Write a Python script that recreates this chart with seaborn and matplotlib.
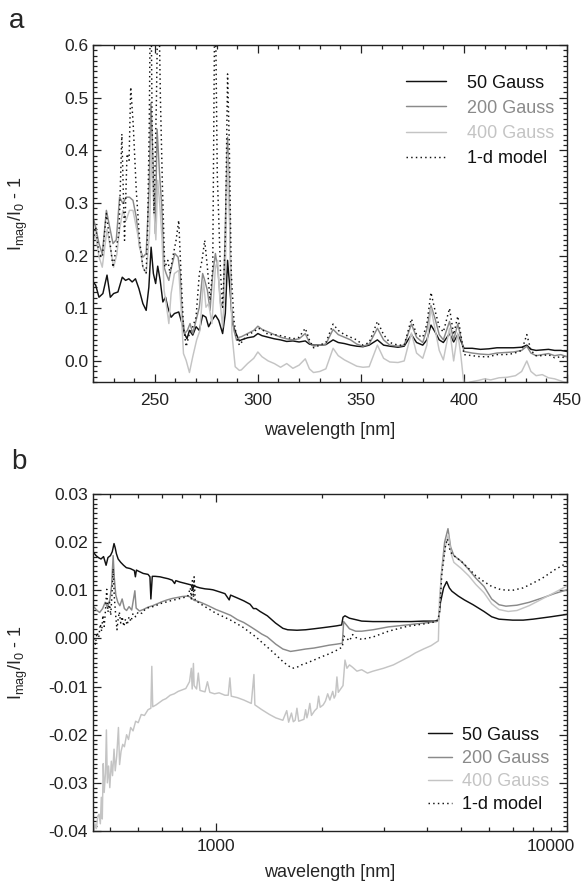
import matplotlib
matplotlib.use('Agg')
import matplotlib.pyplot as plt
import matplotlib.transforms as mtransforms
from matplotlib.ticker import MultipleLocator, FixedLocator, LogLocator, NullFormatter, FuncFormatter
import seaborn as sns

# panel a: (wavelength [nm], I_mag/I_0 - 1)
a_50g = [
    (220, 0.150), (221.3, 0.144), (222.9, 0.121), (224.8, 0.128), (226.8, 0.163), (228.4, 0.121),
    (230.0, 0.128), (232.1, 0.131), (234.2, 0.159), (235.8, 0.153), (237.4, 0.156), (239.0, 0.150),
    (240.6, 0.156), (242.3, 0.137), (244.2, 0.109), (245.8, 0.096), (247.1, 0.140), (248.2, 0.216),
    (249.3, 0.166), (250.4, 0.147), (251.4, 0.180), (252.6, 0.153), (253.9, 0.112), (255.2, 0.121),
    (256.3, 0.102), (257.9, 0.083), (259.5, 0.090), (261.6, 0.093), (263.2, 0.071), (264.4, 0.052),
    (265.6, 0.042), (266.8, 0.058), (268.4, 0.049), (270.0, 0.065), (271.6, 0.058), (273.2, 0.087),
    (274.8, 0.083), (276.1, 0.065), (277.7, 0.077), (279.4, 0.087), (281.0, 0.077), (282.9, 0.052),
    (284.2, 0.090), (285.3, 0.191), (286.5, 0.134), (287.7, 0.071), (289.4, 0.052), (291.0, 0.038),
    (292, 0.040), (295, 0.044), (298, 0.046), (300, 0.052), (302, 0.048), (305, 0.045), (308, 0.042),
    (311, 0.040), (314, 0.037), (317, 0.038), (320, 0.036), (323, 0.038), (325, 0.032), (327, 0.030),
    (330, 0.030), (333, 0.031), (336.5, 0.040), (339, 0.035), (342, 0.033), (345, 0.030), (348, 0.028),
    (351, 0.027), (354, 0.030), (358, 0.040), (361, 0.030), (364, 0.028), (368, 0.026), (371, 0.028),
    (374.5, 0.050), (377, 0.035), (380, 0.030), (382, 0.040), (384, 0.068), (386, 0.055), (388, 0.040),
    (390, 0.035), (393, 0.052), (395, 0.036), (397, 0.050), (398.5, 0.038), (400, 0.024), (404, 0.024),
    (408, 0.022), (412, 0.023), (416, 0.025), (420, 0.025), (424, 0.025), (428, 0.026), (430.5, 0.030),
    (432.5, 0.022), (435, 0.020), (438, 0.021), (441, 0.022), (444, 0.020), (447, 0.020), (450, 0.018),
]
a_200g = [
    (220, 0.273), (221.3, 0.254), (222.9, 0.223), (224.5, 0.203), (226.5, 0.286), (228.1, 0.254),
    (229.7, 0.223), (231.3, 0.230), (232.9, 0.311), (234.5, 0.299), (236.1, 0.311), (237.7, 0.311),
    (239.4, 0.305), (241.0, 0.273), (242.6, 0.216), (244.2, 0.197), (245.8, 0.204), (247.2, 0.324),
    (248.1, 0.490), (249.3, 0.355), (250.2, 0.242), (251.1, 0.440), (252.3, 0.355), (253.4, 0.292),
    (254.5, 0.178), (255.5, 0.166), (256.8, 0.153), (258.1, 0.178), (259.7, 0.204), (261.3, 0.197),
    (262.3, 0.166), (263.2, 0.090), (264.5, 0.052), (265.8, 0.058), (267.1, 0.071), (268.4, 0.052),
    (270.0, 0.077), (271.6, 0.102), (273.2, 0.166), (274.2, 0.153), (275.5, 0.134), (276.8, 0.096),
    (278.1, 0.166), (279.4, 0.204), (280.6, 0.172), (281.9, 0.109), (283.2, 0.102), (284.2, 0.254),
    (285.3, 0.425), (286.1, 0.324), (287.1, 0.102), (288.4, 0.058), (289.7, 0.039), (291.0, 0.045),
    (292, 0.046), (295, 0.052), (298, 0.058), (300, 0.066), (302, 0.060), (305, 0.055), (308, 0.050),
    (311, 0.045), (314, 0.042), (317, 0.040), (320, 0.042), (323, 0.052), (325, 0.035), (327, 0.028),
    (330, 0.030), (333, 0.032), (336.5, 0.060), (339, 0.050), (342, 0.045), (345, 0.040), (348, 0.032),
    (351, 0.028), (354, 0.032), (358, 0.062), (361, 0.040), (364, 0.030), (368, 0.028), (371, 0.030),
    (374.5, 0.070), (377, 0.045), (380, 0.035), (382, 0.060), (384, 0.105), (386, 0.080), (388, 0.050),
    (390, 0.040), (393, 0.075), (395, 0.040), (397, 0.070), (398.5, 0.045), (400, 0.018), (404, 0.015),
    (408, 0.013), (412, 0.012), (416, 0.015), (420, 0.016), (424, 0.017), (428, 0.020), (430.5, 0.028),
    (432.5, 0.015), (435, 0.010), (438, 0.012), (441, 0.014), (444, 0.010), (447, 0.012), (450, 0.008),
]
a_400g = [
    (220, 0.230), (221.3, 0.240), (222.9, 0.198), (224.5, 0.178), (226.8, 0.250), (228.4, 0.216),
    (230.0, 0.178), (231.6, 0.203), (232.9, 0.250), (234.5, 0.286), (236.1, 0.267), (237.7, 0.286),
    (239.4, 0.286), (241.0, 0.254), (242.6, 0.223), (244.2, 0.178), (245.8, 0.166), (247.4, 0.242),
    (248.4, 0.400), (249.5, 0.292), (250.5, 0.230), (251.4, 0.343), (252.5, 0.292), (253.5, 0.230),
    (254.5, 0.134), (255.5, 0.109), (256.8, 0.071), (257.9, 0.128), (259.5, 0.166), (261.6, 0.172),
    (262.7, 0.102), (263.9, 0.014), (265.2, 0.001), (266.8, -0.022), (268.4, 0.008), (270.3, 0.040),
    (271.9, 0.058), (273.6, 0.153), (274.8, 0.102), (276.1, 0.109), (277.7, 0.071), (279.4, 0.178),
    (280.5, 0.191), (281.6, 0.115), (282.9, 0.064), (284.2, 0.166), (285.3, 0.394), (286.5, 0.230),
    (287.4, 0.052), (289.0, -0.011), (291.0, -0.018),
    (292, -0.017), (295, -0.005), (298, 0.005), (300, 0.017), (302, 0.008), (305, 0.000), (308, -0.005),
    (311, -0.012), (314, -0.005), (317, -0.014), (320, -0.008), (323, 0.004), (325, -0.015), (327, -0.022),
    (330, -0.020), (333, -0.015), (336.5, 0.024), (339, 0.010), (342, 0.002), (345, -0.004), (348, -0.010),
    (351, -0.012), (354, -0.011), (358, 0.030), (361, 0.005), (364, -0.002), (368, -0.003), (371, 0.000),
    (374.5, 0.053), (377, 0.015), (380, 0.005), (382, 0.030), (384, 0.100), (386, 0.060), (388, 0.020),
    (390, 0.002), (393, 0.062), (395, 0.000), (397, 0.053), (398.5, 0.010), (400, -0.045), (403, -0.040),
    (407, -0.037), (410, -0.034), (413, -0.036), (417, -0.032), (421, -0.031), (425, -0.028), (428, -0.020),
    (430.5, 0.000), (432.5, -0.020), (435, -0.028), (438, -0.026), (441, -0.032), (444, -0.034),
    (447, -0.038), (450, -0.042),
]
a_model = [
    (220, 0.229), (221.3, 0.254), (222.9, 0.203), (224.5, 0.197), (226.5, 0.280), (228.1, 0.229),
    (229.7, 0.178), (231.3, 0.216), (232.6, 0.242), (234.0, 0.431), (235.3, 0.229), (236.5, 0.393),
    (237.5, 0.381), (238.3, 0.520), (239.5, 0.450), (241.0, 0.324), (242.6, 0.229), (244.2, 0.178),
    (245.8, 0.166), (246.5, 0.250), (247.3, 0.450), (248.0, 0.750), (248.7, 0.450), (249.6, 0.280),
    (250.8, 0.500), (251.7, 0.750), (252.7, 0.500), (253.7, 0.330), (254.8, 0.178), (256.3, 0.191),
    (257.4, 0.166), (258.7, 0.197), (260.3, 0.229), (261.6, 0.267), (262.7, 0.166), (263.9, 0.065),
    (265.2, 0.027), (266.8, 0.052), (268.4, 0.065), (270.0, 0.083), (271.6, 0.166), (272.9, 0.191),
    (274.2, 0.229), (275.5, 0.178), (276.8, 0.115), (278.1, 0.178), (279.2, 0.750), (280.3, 0.355),
    (281.9, 0.166), (282.9, 0.102), (284.2, 0.229), (285.3, 0.545), (286.1, 0.419), (287.1, 0.166),
    (288.4, 0.077), (289.7, 0.045), (291.0, 0.030),
    (292, 0.035), (295, 0.050), (298, 0.055), (300, 0.062), (302, 0.060), (305, 0.050), (308, 0.050),
    (311, 0.048), (314, 0.045), (317, 0.042), (320, 0.045), (323, 0.062), (325, 0.040), (327, 0.025),
    (330, 0.030), (333, 0.035), (336.5, 0.070), (339, 0.058), (342, 0.050), (345, 0.045), (348, 0.040),
    (351, 0.030), (354, 0.035), (358, 0.075), (361, 0.050), (364, 0.035), (368, 0.030), (371, 0.030),
    (374.5, 0.080), (377, 0.050), (380, 0.045), (382, 0.070), (384, 0.130), (386, 0.095), (388, 0.065),
    (390, 0.055), (393, 0.100), (395, 0.050), (397, 0.085), (398.5, 0.050), (400, 0.012), (404, 0.010),
    (408, 0.008), (412, 0.008), (416, 0.012), (420, 0.012), (424, 0.014), (428, 0.020), (430.5, 0.050),
    (432.5, 0.020), (435, 0.010), (438, 0.010), (441, 0.012), (444, 0.006), (447, 0.008), (450, 0.005),
]

# panel b
b_50g = [
    (448, 0.0178), (455, 0.0172), (462, 0.0168), (470, 0.0165), (478, 0.0170), (486, 0.0152),
    (492, 0.0168), (500, 0.0172), (506, 0.0180), (512, 0.0197), (516, 0.0188), (520, 0.0176),
    (526, 0.0165), (535, 0.0158), (545, 0.0152), (555, 0.0147), (570, 0.0145), (585, 0.0141),
    (589, 0.0128), (593, 0.0142), (600, 0.0140), (620, 0.0135), (640, 0.0133), (648, 0.0128),
    (652, 0.0082), (658, 0.0129), (670, 0.0129), (692, 0.0128), (710, 0.0126), (730, 0.0124),
    (750, 0.0121), (762, 0.0114), (768, 0.0120), (790, 0.0117), (810, 0.0115), (830, 0.0113),
    (850, 0.0111), (858, 0.0101), (864, 0.0110), (880, 0.0107), (900, 0.0105), (930, 0.0103),
    (960, 0.0102), (980, 0.0101), (1000, 0.0099), (1030, 0.0096), (1060, 0.0093), (1090, 0.0080),
    (1100, 0.0090), (1150, 0.0084), (1200, 0.0078), (1250, 0.0071), (1278, 0.0062), (1300, 0.0062),
    (1335, 0.0056), (1400, 0.0047), (1477, 0.0032), (1550, 0.0021), (1600, 0.0018), (1700, 0.0017),
    (1800, 0.0018), (1900, 0.0020), (2000, 0.0022), (2100, 0.0024), (2200, 0.0026), (2280, 0.0028),
    (2300, 0.0044), (2330, 0.0047), (2400, 0.0042), (2500, 0.0039), (2600, 0.0036), (2800, 0.0035),
    (3000, 0.0035), (3300, 0.0035), (3600, 0.0035), (3900, 0.0036), (4200, 0.0036), (4300, 0.0038),
    (4360, 0.0075), (4450, 0.0105), (4540, 0.0118), (4620, 0.0105), (4700, 0.0098), (4900, 0.0088),
    (5100, 0.0080), (5400, 0.0070), (5800, 0.0056), (6100, 0.0045), (6400, 0.0040), (7000, 0.0038),
    (7500, 0.0038), (8000, 0.0040), (9000, 0.0045), (10000, 0.0050),
]
b_200g = [
    (448, 0.0066), (458, 0.0058), (466, 0.0054), (475, 0.0062), (483, 0.0075), (490, 0.0065),
    (498, 0.0080), (504, 0.0110), (509, 0.0172), (513, 0.0125), (518, 0.0090), (525, 0.0075),
    (532, 0.0068), (540, 0.0082), (548, 0.0062), (556, 0.0058), (565, 0.0066), (575, 0.0059),
    (587, 0.0099), (592, 0.0063), (605, 0.0057), (620, 0.0060), (640, 0.0065), (660, 0.0068),
    (680, 0.0072), (700, 0.0076), (725, 0.0080), (750, 0.0083), (775, 0.0085), (800, 0.0087),
    (830, 0.0088), (850, 0.0085), (866, 0.0079), (880, 0.0078), (910, 0.0074), (950, 0.0068),
    (1000, 0.0060), (1050, 0.0054), (1100, 0.0048), (1150, 0.0039), (1200, 0.0033), (1250, 0.0025),
    (1300, 0.0017), (1350, 0.0009), (1400, 0.0003), (1480, -0.0012), (1550, -0.0022), (1630, -0.0027),
    (1700, -0.0025), (1800, -0.0022), (1900, -0.0020), (2000, -0.0017), (2100, -0.0014), (2200, -0.0012),
    (2290, -0.0010), (2310, 0.0035), (2340, 0.0030), (2400, 0.0020), (2500, 0.0015), (2600, 0.0015),
    (2800, 0.0018), (3100, 0.0024), (3500, 0.0028), (3900, 0.0032), (4250, 0.0035), (4320, 0.0040),
    (4380, 0.0130), (4480, 0.0200), (4580, 0.0228), (4660, 0.0190), (4760, 0.0172), (5000, 0.0160),
    (5250, 0.0143), (5500, 0.0125), (5800, 0.0108), (6100, 0.0082), (6400, 0.0070), (6700, 0.0067),
    (7200, 0.0069), (7800, 0.0075), (8500, 0.0084), (9200, 0.0093), (10000, 0.0101),
]
b_400g = [
    (448, -0.0410), (452, -0.0385), (456, -0.0395), (460, -0.0370), (464, -0.0365), (468, -0.0385),
    (471, -0.0330), (474, -0.0375), (477, -0.0260), (480, -0.0320), (484, -0.0280), (487, -0.0190),
    (490, -0.0300), (494, -0.0265), (498, -0.0310), (503, -0.0255), (507, -0.0285), (512, -0.0230),
    (516, -0.0275), (521, -0.0245), (527, -0.0185), (531, -0.0262), (536, -0.0235), (542, -0.0220),
    (548, -0.0225), (556, -0.0200), (563, -0.0210), (571, -0.0185), (580, -0.0192), (590, -0.0172),
    (600, -0.0175), (612, -0.0158), (625, -0.0160), (640, -0.0148), (652, -0.0145), (656, -0.0058),
    (660, -0.0142), (675, -0.0138), (690, -0.0133), (705, -0.0128), (720, -0.0125), (740, -0.0118),
    (760, -0.0115), (780, -0.0110), (800, -0.0107), (820, -0.0104), (840, -0.0090), (850, -0.0062),
    (855, -0.0105), (862, -0.0052), (866, -0.0098), (880, -0.0105), (890, -0.0072), (900, -0.0108),
    (930, -0.0111), (945, -0.0090), (960, -0.0112), (990, -0.0115), (1020, -0.0113), (1060, -0.0118),
    (1083, -0.0118), (1095, -0.0082), (1105, -0.0120), (1150, -0.0123), (1200, -0.0128), (1260, -0.0135),
    (1282, -0.0075), (1290, -0.0138), (1350, -0.0148), (1420, -0.0158), (1480, -0.0165), (1550, -0.0170),
    (1590, -0.0150), (1610, -0.0174), (1640, -0.0155), (1660, -0.0173), (1680, -0.0170), (1700, -0.0145),
    (1720, -0.0172), (1780, -0.0168), (1800, -0.0148), (1815, -0.0165), (1830, -0.0155), (1850, -0.0135),
    (1870, -0.0160), (1910, -0.0150), (1940, -0.0145), (1960, -0.0120), (1980, -0.0143), (2020, -0.0138),
    (2050, -0.0130), (2080, -0.0115), (2110, -0.0128), (2150, -0.0110), (2170, -0.0124), (2190, -0.0118),
    (2210, -0.0080), (2230, -0.0112), (2300, -0.0098), (2330, -0.0045), (2360, -0.0062), (2400, -0.0055),
    (2450, -0.0060), (2520, -0.0068), (2600, -0.0065), (2700, -0.0072), (2800, -0.0068), (3000, -0.0062),
    (3200, -0.0055), (3400, -0.0045), (3550, -0.0038), (3700, -0.0030), (3900, -0.0022), (4100, -0.0015),
    (4300, -0.0005), (4330, 0.0080), (4400, 0.0140), (4500, 0.0190), (4590, 0.0215), (4680, 0.0175),
    (4760, 0.0158), (5000, 0.0145), (5250, 0.0130), (5500, 0.0112), (5800, 0.0095), (6100, 0.0072),
    (6400, 0.0060), (6800, 0.0056), (7200, 0.0058), (7800, 0.0068), (8500, 0.0082), (9200, 0.0095),
    (10000, 0.0109),
]
b_model = [
    (448, 0.0000), (453, -0.0012), (458, 0.0012), (463, 0.0002), (468, 0.0030), (472, 0.0015),
    (476, 0.0048), (480, 0.0025), (484, 0.0058), (488, 0.0102), (492, 0.0055), (497, 0.0075),
    (501, 0.0048), (505, 0.0090), (509, 0.0145), (513, 0.0085), (518, 0.0045), (522, 0.0018),
    (526, 0.0040), (530, 0.0055), (535, 0.0032), (540, 0.0045), (546, 0.0025), (552, 0.0040),
    (558, 0.0028), (565, 0.0045), (572, 0.0035), (580, 0.0052), (590, 0.0045), (600, 0.0055),
    (615, 0.0052), (630, 0.0062), (650, 0.0065), (670, 0.0067), (690, 0.0072), (710, 0.0074),
    (730, 0.0077), (750, 0.0079), (770, 0.0081), (790, 0.0083), (810, 0.0085), (830, 0.0087),
    (845, 0.0105), (850, 0.0082), (856, 0.0120), (862, 0.0085), (866, 0.0128), (872, 0.0078),
    (890, 0.0075), (920, 0.0068), (960, 0.0060), (1000, 0.0052), (1050, 0.0045), (1100, 0.0038),
    (1150, 0.0030), (1200, 0.0022), (1250, 0.0012), (1300, 0.0003), (1350, -0.0008), (1400, -0.0018),
    (1450, -0.0028), (1500, -0.0038), (1550, -0.0048), (1600, -0.0056), (1650, -0.0062), (1700, -0.0060),
    (1750, -0.0055), (1800, -0.0052), (1900, -0.0045), (2000, -0.0038), (2100, -0.0032), (2200, -0.0025),
    (2290, -0.0018), (2310, 0.0005), (2340, 0.0002), (2400, -0.0005), (2450, 0.0008), (2500, 0.0002),
    (2600, -0.0002), (2800, 0.0003), (3100, 0.0015), (3500, 0.0025), (3900, 0.0030), (4250, 0.0035),
    (4330, 0.0050), (4400, 0.0135), (4500, 0.0190), (4560, 0.0207), (4650, 0.0180), (4760, 0.0172),
    (5000, 0.0160), (5250, 0.0145), (5500, 0.0130), (5800, 0.0118), (6100, 0.0108), (6500, 0.0101),
    (7000, 0.0100), (7500, 0.0105), (8000, 0.0115), (8500, 0.0125), (9200, 0.0142), (10000, 0.0157),
]

labels = ['50 Gauss', '200 Gauss', '400 Gauss', '1-d model']
colors = ['#111111', '#8a8a8a', '#c4c4c4', '#111111']
styles = ['-', '-', '-', (0, (1, 2.2))]


def draw_panel(ax, series):
    for data, label, color, ls in zip(series, labels, colors, styles):
        wl, val = zip(*data)
        sns.lineplot(x=list(wl), y=list(val), ax=ax, color=color, lw=1.05, linestyle=ls,
                     estimator=None, sort=False, legend=False)


def style_axis(ax):
    for sp in ax.spines.values():
        sp.set_linewidth(1.0)
        sp.set_color('#222222')
    ax.tick_params(which='both', direction='in', top=True, right=True, width=0.9,
                   colors='#222222', labelsize=12.5)
    ax.tick_params(which='major', length=6)
    ax.tick_params(which='minor', length=3)
    ax.tick_params(axis='y', pad=3.5)


sns.set_theme(style='ticks')
plt.rcParams['font.family'] = ['Liberation Sans', 'DejaVu Sans']
plt.rcParams['mathtext.default'] = 'regular'

fig = plt.figure(figsize=(5.84, 8.82), dpi=100)
ax_a = fig.add_axes([93 / 584, 1 - 382 / 882, 474 / 584, 337 / 882])
ax_b = fig.add_axes([93 / 584, 1 - 831 / 882, 474 / 584, 337 / 882])

ylabel = r'$I_{mag}/I_0$ - 1'

# panel a
draw_panel(ax_a, [a_50g, a_200g, a_400g, a_model])
ax_a.set_xlim(220, 450)
ax_a.set_ylim(-0.04, 0.6)
ax_a.xaxis.set_major_locator(MultipleLocator(50))
ax_a.xaxis.set_minor_locator(MultipleLocator(10))
ax_a.yaxis.set_major_locator(MultipleLocator(0.1))
ax_a.yaxis.set_minor_locator(MultipleLocator(0.01))
ax_a.yaxis.set_major_formatter(FuncFormatter(lambda v, p: f'{round(v, 2) + 0:.1f}'))
style_axis(ax_a)
ax_a.tick_params(axis='x', pad=8)
ax_a.set_xlabel('wavelength [nm]', fontsize=13)
ax_a.set_ylabel(ylabel, fontsize=13)
ax_a.xaxis.set_label_coords(0.5, -0.12)
ax_a.yaxis.set_label_coords(-0.132, 0.5)
ax_a.legend(ax_a.lines[:4], labels, loc='upper left', bbox_to_anchor=(0.66, 0.912),
            frameon=False, borderpad=0, borderaxespad=0, handlelength=2.2,
            handletextpad=1.2, labelspacing=0.45, labelcolor='linecolor', fontsize=13)

# panel b
draw_panel(ax_b, [b_50g, b_200g, b_400g, b_model])
ax_b.set_xscale('log')
ax_b.set_xlim(446, 10000)
ax_b.set_ylim(-0.04, 0.03)
ax_b.xaxis.set_major_locator(FixedLocator([1000, 10000]))
ax_b.xaxis.set_major_formatter(FuncFormatter(lambda v, p: f'{v:.0f}'))
ax_b.xaxis.set_minor_locator(LogLocator(base=10, subs=(2, 3, 4, 5, 6, 7, 8, 9)))
ax_b.xaxis.set_minor_formatter(NullFormatter())
ax_b.yaxis.set_major_locator(MultipleLocator(0.01))
ax_b.yaxis.set_minor_locator(MultipleLocator(0.001))
ax_b.yaxis.set_major_formatter(FuncFormatter(lambda v, p: f'{round(v, 3) + 0:.2f}'))
style_axis(ax_b)
ax_b.tick_params(axis='x', pad=6)
ax_b.set_xlabel('wavelength [nm]', fontsize=13)
ax_b.set_ylabel(ylabel, fontsize=13)
ax_b.xaxis.set_label_coords(0.5, -0.097)
ax_b.yaxis.set_label_coords(-0.132, 0.5)
ax_b.legend(ax_b.lines[:4], labels, loc='upper left', bbox_to_anchor=(0.707, 0.31),
            frameon=False, borderpad=0, borderaxespad=0, handlelength=1.35,
            handletextpad=0.55, labelspacing=0.35, labelcolor='linecolor', fontsize=13)

# keep the last tick label inside the figure
last = ax_b.xaxis.get_major_ticks()[-1].label1
last.set_horizontalalignment('right')
last.set_transform(last.get_transform() + mtransforms.ScaledTranslation(0.08, 0, fig.dpi_scale_trans))

fig.text(9 / 584, 1 - 28 / 882, 'a', fontsize=20, va='baseline')
fig.text(11 / 584, 1 - 469 / 882, 'b', fontsize=20, va='baseline')

fig.savefig('out.png', dpi=100)
